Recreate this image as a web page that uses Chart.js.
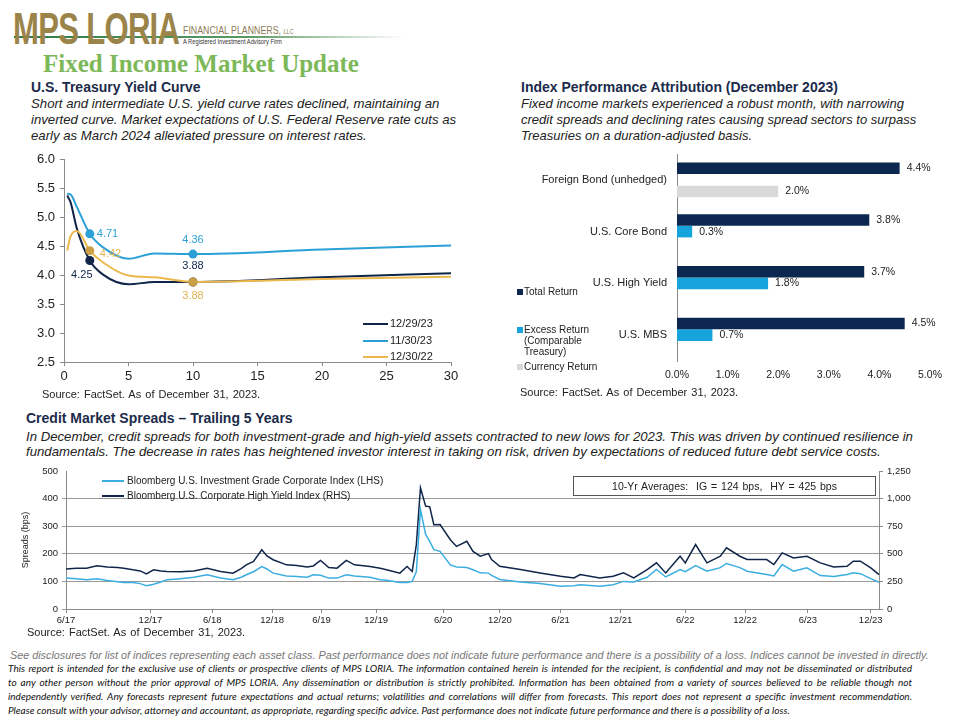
<!DOCTYPE html>
<html>
<head>
<meta charset="utf-8">
<script src="https://cdn.jsdelivr.net/npm/chart.js@4.4.1/dist/chart.umd.min.js"></script>
<style>
  body { margin: 0; width: 960px; height: 720px; background: #fff; position: relative; overflow: hidden;
         font-family: "Liberation Sans", Arial, sans-serif; color: #222; }
  .abs { position: absolute; }
  .head { font-weight: bold; font-size: 14px; line-height: 16px; color: #1c2b4b; white-space: nowrap; }
  .desc { font-style: italic; font-size: 13px; line-height: 16px; color: #222; white-space: nowrap; }
  .src { font-size: 11px; color: #222; white-space: nowrap; word-spacing: 1px; }
  .leg { font-size: 10px; color: #222; white-space: nowrap; }
  .foot1 { font-style: italic; font-size: 10.8px; color: #777; white-space: nowrap; }
  .foot2 { font-family: Lato, "Open Sans", sans-serif; font-style: italic; font-size: 10px; line-height: 14px; color: #111; width: 904px; }
  .foot2 div { white-space: nowrap; text-align: justify; text-align-last: justify; }
  .foot2 div.last { text-align-last: left; }
</style>
</head>
<body>

<!-- logo + title -->
<div class="abs" style="left:14px;top:36px;width:390px;height:2px;background:linear-gradient(to right,#2e7b47,#5a9a62 60%,rgba(255,255,255,0));"></div>
<div class="abs" style="left:13px;top:3px;font-size:45px;font-weight:bold;color:#9b8449;transform:scaleX(0.69);transform-origin:left top;letter-spacing:-1px;white-space:nowrap;">MPS LORIA</div>
<div class="abs" style="left:183px;top:24px;font-family:'Liberation Sans Narrow','Liberation Sans',sans-serif;font-size:11px;color:#8b7b55;white-space:nowrap;transform:scaleX(0.8);transform-origin:left top;">FINANCIAL PLANNERS, <span style="font-size:7px">LLC</span></div>
<div class="abs" style="left:183px;top:38px;font-family:'Liberation Sans Narrow','Liberation Sans',sans-serif;font-size:7px;color:#333;white-space:nowrap;transform:scaleX(0.82);transform-origin:left top;">A Registered Investment Advisory Firm</div>
<div class="abs" style="left:43px;top:50px;font-family:'Liberation Serif','DejaVu Serif',serif;font-weight:bold;font-size:25px;color:#7db858;white-space:nowrap;">Fixed Income Market Update</div>

<!-- section texts -->
<div class="abs head" style="left:31px;top:79px;">U.S. Treasury Yield Curve</div>
<div class="abs desc" style="left:31px;top:96px;font-size:13.2px;">
  <div>Short and intermediate U.S. yield curve rates declined, maintaining an</div>
  <div>inverted curve. Market expectations of U.S. Federal Reserve rate cuts as</div>
  <div>early as March 2024 alleviated pressure on interest rates.</div>
</div>

<div class="abs head" style="left:521px;top:79px;">Index Performance Attribution (December 2023)</div>
<div class="abs desc" style="left:521px;top:96px;">
  <div>Fixed income markets experienced a robust month, with narrowing</div>
  <div>credit spreads and declining rates causing spread sectors to surpass</div>
  <div>Treasuries on a duration-adjusted basis.</div>
</div>

<div class="abs head" style="left:26px;top:410px;">Credit Market Spreads – Trailing 5 Years</div>
<div class="abs desc" style="left:26px;top:429px;line-height:15px;width:882px;font-size:13.2px;">
  <div style="text-align:justify;text-align-last:justify;">In December, credit spreads for both investment-grade and high-yield assets contracted to new lows for 2023. This was driven by continued resilience in</div>
  <div>fundamentals. The decrease in rates has heightened investor interest in taking on risk, driven by expectations of reduced future debt service costs.</div>
</div>

<!-- charts -->
<canvas id="curveChart" class="abs" style="left:20px;top:145px;" width="445" height="245"></canvas>
<canvas id="attribChart" class="abs" style="left:510px;top:145px;" width="445" height="245"></canvas>
<canvas id="spreadChart" class="abs" style="left:10px;top:462px;" width="915" height="165"></canvas>

<!-- yield curve legend -->
<div id="curveLegend" class="abs" style="left:363px;top:315px;"></div>

<!-- attribution legend -->
<div class="abs leg" style="left:517px;top:286px;line-height:11px;">
  <div><span style="display:inline-block;width:6px;height:6px;background:#0c2851;margin-right:1px;"></span>Total Return</div>
  <div style="margin-top:27px;"><span style="display:inline-block;width:6px;height:6px;background:#17a3dc;margin-right:1px;"></span>Excess Return</div>
  <div style="padding-left:7px;">(Comparable</div>
  <div style="padding-left:7px;">Treasury)</div>
  <div style="margin-top:4px;"><span style="display:inline-block;width:6px;height:6px;background:#d9d9d9;margin-right:1px;"></span>Currency Return</div>
</div>

<!-- spreads legend + box -->
<div class="abs leg" style="left:102px;top:473px;line-height:15px;">
  <div><span style="display:inline-block;width:22px;height:2px;background:#3aaee0;vertical-align:middle;margin-right:3px;"></span>Bloomberg U.S. Investment Grade Corporate Index (LHS)</div>
  <div><span style="display:inline-block;width:22px;height:2px;background:#10254a;vertical-align:middle;margin-right:3px;"></span>Bloomberg U.S. Corporate High Yield Index (RHS)</div>
</div>
<div class="abs" style="left:573px;top:476px;width:301px;height:18px;border:1.5px solid #555;font-size:10.5px;line-height:18px;text-align:center;white-space:nowrap;word-spacing:1px;">10-Yr Averages:&nbsp; IG = 124 bps,&nbsp; HY = 425 bps</div>

<!-- sources -->
<div class="abs src" style="left:42px;top:388px;">Source: FactSet. As of December 31, 2023.</div>
<div class="abs src" style="left:520px;top:386px;">Source: FactSet. As of December 31, 2023.</div>
<div class="abs src" style="left:27px;top:626px;">Source: FactSet. As of December 31, 2023.</div>

<!-- footer -->
<div class="abs foot1" style="left:10px;top:649px;">See disclosures for list of indices representing each asset class. Past performance does not indicate future performance and there is a possibility of a loss. Indices cannot be invested in directly.</div>
<div class="abs foot2" style="left:8px;top:661px;">
  <div>This report is intended for the exclusive use of clients or prospective clients of MPS LORIA. The information contained herein is intended for the recipient, is confidential and may not be disseminated or distributed</div>
  <div>to any other person without the prior approval of MPS LORIA. Any dissemination or distribution is strictly prohibited. Information has been obtained from a variety of sources believed to be reliable though not</div>
  <div>independently verified. Any forecasts represent future expectations and actual returns; volatilities and correlations will differ from forecasts. This report does not represent a specific investment recommendation.</div>
  <div class="last">Please consult with your advisor, attorney and accountant, as appropriate, regarding specific advice. Past performance does not indicate future performance and there is a possibility of a loss.</div>
</div>

<script>
// ---- yield curve data (maturity in years, yield in %)
const curveTenors = [0.25, 0.5, 1, 2, 3, 5, 7, 10, 20, 30];
const yields_122923 = [5.37, 5.26, 4.80, 4.25, 4.01, 3.84, 3.88, 3.88, 3.96, 4.03];
const yields_113023 = [5.40, 5.39, 5.17, 4.71, 4.48, 4.28, 4.37, 4.36, 4.44, 4.51];
const yields_123022 = [4.42, 4.66, 4.76, 4.42, 4.22, 3.99, 3.96, 3.88, 3.93, 3.97];
const curveLabels = ['12/29/23', '11/30/23', '12/30/22'];
const markedTenors = [2, 10];

// ---- attribution data (%)
const attribCategories = ['Foreign Bond (unhedged)', 'U.S. Core Bond', 'U.S. High Yield', 'U.S. MBS'];
const totalReturn = [4.4, 3.8, 3.7, 4.5];
const excessReturn = [null, 0.3, 1.8, 0.7];
const currencyReturn = [2.0, null, null, null];

// ---- credit spreads: position along the date axis (6/17 = 0, 12/23 = 78), spreads in bps
const spreadPos = [0, 1, 2, 3, 4, 5, 5.6, 6.5, 7.2, 7.8, 8.5, 9.2, 9.8, 11.1, 12.4, 13.7, 15, 16.2, 17, 17.5,
  18.2, 19, 19.5, 20.1, 21.4, 22.4, 23.4, 24, 24.7, 25.5, 26.3, 27.2, 28, 29.5, 30.5, 31.1, 32.4, 33.1, 33.6, 34,
  34.4, 34.9, 35.3, 35.7, 36.3, 37.3, 37.9, 38.9, 39.5, 40.2, 41, 41.3, 42.1, 44.1, 46, 48, 49.3, 49.9, 51.8, 53.1,
  54.1, 55.1, 56.4, 57.3, 58.2, 59.6, 60.1, 61.1, 62.2, 63.5, 64.1, 65.4, 66.1, 68, 68.7, 69.5, 70.6, 71.9, 73.2, 74.5,
  75.8, 76.4, 77.1, 78.1, 78.9];
const igSpread = [112, 110, 106, 110, 103, 99, 96, 96, 92, 84, 90, 98, 106, 110, 115, 124, 112, 106, 115, 124,
  135, 154, 145, 130, 120, 118, 115, 124, 122, 112, 112, 124, 120, 115, 106, 104, 96, 96, 100, 136,
  360, 270, 245, 215, 209, 160, 152, 150, 142, 131, 130, 122, 107, 98, 92, 82, 84, 88, 82, 88,
  100, 98, 115, 143, 116, 143, 135, 157, 137, 150, 165, 150, 137, 125, 120, 161, 137, 149, 121, 118,
  125, 131, 128, 110, 97];
const hySpread = [362, 368, 370, 391, 380, 375, 370, 355, 345, 318, 355, 345, 340, 338, 345, 370, 340, 325, 365, 400,
  430, 537, 480, 446, 400, 395, 380, 390, 440, 375, 370, 440, 400, 385, 370, 355, 325, 385, 340, 583,
  1098, 932, 925, 764, 765, 628, 567, 613, 522, 478, 502, 448, 387, 357, 327, 297, 281, 312, 281, 297,
  327, 281, 357, 418, 327, 478, 418, 584, 418, 478, 554, 478, 448, 448, 403, 508, 463, 478, 418, 381,
  387, 433, 433, 372, 312];
const spreadTickLabels = ['6/17', '12/17', '6/18', '12/18', '6/19', '12/19', '6/20', '12/20', '6/21', '12/21', '6/22', '12/22', '6/23', '12/23'];
const spreadTickPos = [0, 8.2, 14.2, 20, 24.8, 30.1, 36.6, 42.1, 48, 53.8, 60.1, 65.9, 72, 78.1];

Chart.defaults.font.family = '"Liberation Sans", Arial, sans-serif';
Chart.defaults.color = '#222';

const NAVY = '#10254a';
const AXIS = '#8a8a8a';

// fixed axis size, and no extra vertical padding from the tick labels
function fixWidth(w) {
  return s => { s.width = w; s.paddingTop = 0; s.paddingBottom = 0; };
}

// value labels next to selected curve points
const pointLabelPlugin = {
  id: 'pointLabels',
  afterDatasetsDraw(chart, args, opts) {
    const ctx = chart.ctx;
    ctx.save();
    ctx.font = '11px "Liberation Sans", Arial, sans-serif';
    ctx.textBaseline = 'middle';
    (opts.items || []).forEach(it => {
      const ds = chart.data.datasets[it.ds];
      const idx = curveTenors.indexOf(it.tenor);
      const pt = chart.getDatasetMeta(it.ds).data[idx];
      ctx.fillStyle = it.color || ds.borderColor;
      ctx.textAlign = it.align || 'center';
      ctx.fillText(ds.data[idx].y.toFixed(2), pt.x + it.dx, pt.y + it.dy);
    });
    ctx.restore();
  }
};

// value labels at bar ends
const barLabelPlugin = {
  id: 'barLabels',
  afterDatasetsDraw(chart) {
    const ctx = chart.ctx;
    ctx.save();
    ctx.font = '10.5px "Liberation Sans", Arial, sans-serif';
    ctx.fillStyle = '#222';
    ctx.textAlign = 'left';
    ctx.textBaseline = 'middle';
    chart.data.datasets.forEach((ds, di) => {
      chart.getDatasetMeta(di).data.forEach((bar, i) => {
        const v = ds.data[i];
        if (v === null) return;
        ctx.fillText(v.toFixed(1) + '%', bar.x + 7, bar.y);
      });
    });
    ctx.restore();
  }
};

function curveSeries(values) {
  return curveTenors.map((t, i) => ({ x: t, y: values[i] }));
}
const markRadius = curveTenors.map(t => markedTenors.includes(t) ? 4.5 : 0);

const curveColors = [NAVY, '#2aa0d6', '#ebb84e'];
const curveMarkColors = [NAVY, '#2aa0d6', '#c9a048'];

new Chart(document.getElementById('curveChart'), {
  type: 'line',
  data: {
    datasets: [yields_122923, yields_113023, yields_123022].map((vals, i) => ({
      label: curveLabels[i],
      data: curveSeries(vals),
      borderColor: curveColors[i],
      backgroundColor: curveMarkColors[i],
      pointBackgroundColor: curveMarkColors[i],
      pointBorderWidth: 0,
      pointRadius: markRadius,
      borderWidth: 2,
      cubicInterpolationMode: 'monotone'
    })).reverse()
  },
  plugins: [pointLabelPlugin],
  options: {
    responsive: false,
    animation: false,
    layout: { padding: { top: 14, right: 14 } },
    plugins: {
      legend: { display: false },
      tooltip: { enabled: false },
      pointLabels: {
        items: [
          { ds: 1, tenor: 2, dx: 7, dy: 0, align: 'left' },
          { ds: 0, tenor: 2, dx: 10, dy: 3, align: 'left', color: '#e0b452' },
          { ds: 2, tenor: 2, dx: -8, dy: 14 },
          { ds: 1, tenor: 10, dx: 0, dy: -14 },
          { ds: 2, tenor: 10, dx: 0, dy: -16 },
          { ds: 0, tenor: 10, dx: 0, dy: 14, color: '#e0b452' }
        ]
      }
    },
    scales: {
      x: {
        type: 'linear', min: 0, max: 30,
        ticks: { stepSize: 5, font: { size: 13 }, padding: 3 },
        grid: { drawOnChartArea: false, color: AXIS, tickLength: 4 },
        border: { color: AXIS },
        afterFit(s) { s.height = 28; }
      },
      y: {
        min: 2.5, max: 6,
        ticks: { stepSize: 0.5, font: { size: 13 }, padding: 5, callback: v => v.toFixed(1) },
        grid: { drawOnChartArea: false, color: AXIS, tickLength: 4 },
        border: { color: AXIS },
        afterFit: fixWidth(44)
      }
    }
  }
});

// legend for the yield curves (order as in reference)
document.getElementById('curveLegend').innerHTML = curveLabels.map((lab, i) =>
  `<div style="font-size:11px;line-height:16.5px;white-space:nowrap;"><span style="display:inline-block;width:25px;height:2px;background:${curveColors[i]};vertical-align:middle;margin-right:2px;"></span>${lab}</div>`
).join('');

new Chart(document.getElementById('attribChart'), {
  type: 'bar',
  data: {
    labels: attribCategories,
    datasets: [
      { label: 'Total Return', data: totalReturn, backgroundColor: '#0c2851' },
      { label: 'Excess Return (Comparable Treasury)', data: excessReturn, backgroundColor: '#17a3dc' },
      { label: 'Currency Return', data: currencyReturn, backgroundColor: '#d9d9d9' }
    ]
  },
  plugins: [barLabelPlugin],
  options: {
    indexAxis: 'y',
    responsive: false,
    animation: false,
    layout: { padding: { top: 9, right: 25 } },
    datasets: { bar: { categoryPercentage: 0.67, barPercentage: 1.0 } },
    plugins: { legend: { display: false }, tooltip: { enabled: false } },
    scales: {
      x: {
        min: 0, max: 5,
        ticks: { stepSize: 1, font: { size: 10.5 }, padding: 8, callback: v => v.toFixed(1) + '%' },
        grid: { display: false, drawTicks: false },
        border: { display: false },
        afterFit(s) { s.height = 29; s.paddingLeft = 0; s.paddingRight = 0; }
      },
      y: {
        ticks: { font: { size: 11 }, padding: 10 },
        grid: { display: false, drawTicks: false },
        border: { color: AXIS },
        afterFit: fixWidth(167)
      }
    }
  }
});

new Chart(document.getElementById('spreadChart'), {
  type: 'line',
  data: {
    datasets: [
      { label: 'Bloomberg U.S. Investment Grade Corporate Index (LHS)', yAxisID: 'y',
        data: spreadPos.map((m, i) => ({ x: m, y: igSpread[i] })), borderColor: '#3aaee0', borderWidth: 1.5 },
      { label: 'Bloomberg U.S. Corporate High Yield Index (RHS)', yAxisID: 'y2',
        data: spreadPos.map((m, i) => ({ x: m, y: hySpread[i] })), borderColor: NAVY, borderWidth: 1.5 }
    ]
  },
  options: {
    responsive: false,
    animation: false,
    elements: { point: { radius: 0 }, line: { tension: 0 } },
    layout: { padding: { top: 9 } },
    plugins: { legend: { display: false }, tooltip: { enabled: false } },
    scales: {
      x: {
        type: 'linear', min: 0, max: spreadPos[spreadPos.length - 1],
        afterBuildTicks(s) { s.ticks = spreadTickPos.map(v => ({ value: v })); },
        ticks: { font: { size: 9.5 }, padding: 2, autoSkip: false, maxRotation: 0,
                 callback: (v, i) => spreadTickLabels[i] },
        grid: { drawOnChartArea: false, color: AXIS, tickLength: 4 },
        border: { color: AXIS },
        afterFit(s) { s.height = 18; }
      },
      y: {
        position: 'left', min: 0, max: 500,
        ticks: { stepSize: 100, font: { size: 9.5 }, padding: 4 },
        grid: { color: c => c.tick.value === 500 ? 'rgba(0,0,0,0)' : '#9a9a9a', tickLength: 4 },
        border: { color: AXIS },
        title: { display: true, text: 'Spreads (bps)', font: { size: 9 }, padding: { top: 10, bottom: 0 } },
        afterFit: fixWidth(56)
      },
      y2: {
        position: 'right', min: 0, max: 1250,
        ticks: { stepSize: 250, font: { size: 9.5 }, padding: 4, callback: v => v.toLocaleString('en-US') },
        grid: { drawOnChartArea: false, color: AXIS, tickLength: 4 },
        border: { color: AXIS },
        afterFit: fixWidth(46)
      }
    }
  }
});
</script>
</body>
</html>
